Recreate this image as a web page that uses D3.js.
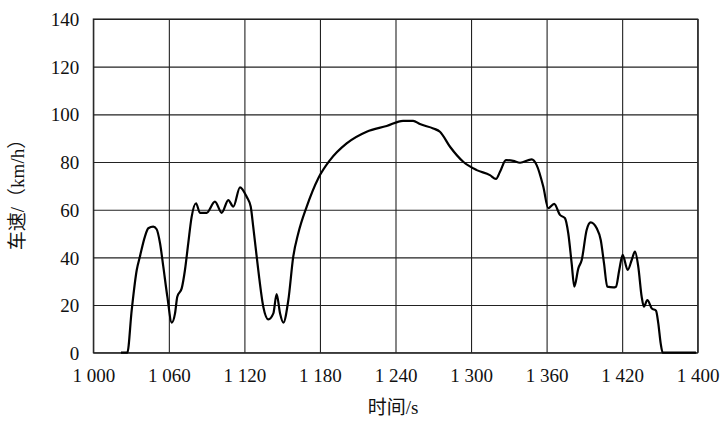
<!DOCTYPE html>
<html>
<head>
<meta charset="utf-8">
<script src="https://cdn.jsdelivr.net/npm/d3@7"></script>
<style>
  body { margin: 0; background: #fff; }
  svg text { font-family: "Liberation Serif", "Times New Roman", Tinos, "DejaVu Serif", "Noto Sans CJK SC", serif !important; fill: #111; }
</style>
</head>
<body>
<svg width="723" height="422"></svg>
<script>
// time (s) and speed (km/h)
const TIMES = [1022, 1027, 1030.5, 1034.5, 1037, 1041, 1043.7, 1047.6, 1050.3, 1053, 1055.6, 1058.8, 1062.3,
  1064.9, 1066.7, 1070.2, 1072.8, 1075.4, 1078.1, 1081.6, 1084.7, 1090, 1096.6, 1102, 1107.2, 1111.2, 1116.5,
  1121.8, 1125, 1127, 1131, 1135, 1139, 1143, 1145.6, 1148.3, 1150.9, 1154.9, 1158.8, 1162.8, 1169.5, 1178.7,
  1188, 1201.2, 1217.1, 1233, 1246, 1254, 1259.4, 1270, 1275.3, 1283.3, 1293.8, 1304.5, 1315, 1319.8, 1323,
  1327.7, 1333.5, 1338.9, 1348.2, 1352.1, 1357.4, 1361.3, 1366, 1370.6, 1374.6, 1377.2, 1379.9, 1382, 1385.2,
  1387.9, 1391.8, 1395, 1399.8, 1403, 1405.6, 1408.2, 1413, 1415.1, 1417.7, 1420.4, 1424.4, 1427.6, 1430.2,
  1432.8, 1435.5, 1437.3, 1440, 1443.5, 1446.9, 1448.7, 1450.6, 1452.2, 1478.6];
const SPEEDS = [0, 0, 17.9, 34.7, 40.3, 48.7, 52.2, 52.9, 51.8, 45.9, 36.1, 23.5, 12.6,
  16.5, 23.5, 27, 34.7, 45.9, 57, 62.7, 58.7, 58.7, 63.4, 58.7, 64, 61.3, 69.4,
  65.4, 61.3, 52.9, 34.7, 19.3, 14, 16.5, 24.6, 16.5, 12.6, 22.1, 40.3, 50.1, 61.3, 73.2,
  80.8, 87.8, 92.7, 95.1, 97.3, 97.3, 95.9, 94.1, 92.7, 86.4, 80.1, 76.6, 74.5, 72.9, 75.9,
  80.8, 80.5, 79.7, 81.1, 78.7, 69.6, 60.6, 62.4, 57.8, 56.4, 50.1, 37.5, 27.7, 35.4,
  38.9, 51.5, 54.7, 52.2, 47.3, 37.5, 27.7, 27.4, 27.7, 34.7, 41, 34.7, 38.9, 42.4,
  36.1, 23.5, 19.3, 22.1, 18.6, 17.6, 12.3, 3.9, 0, 0];

const X_TICKS = [1000, 1060, 1120, 1180, 1240, 1300, 1360, 1420, 1480];
// last label is printed as "1 400" in the original figure
const X_TICK_LABELS = ['1 000', '1 060', '1 120', '1 180', '1 240', '1 300', '1 360', '1 420', '1 400'];
const Y_TICKS = [0, 20, 40, 60, 80, 100, 120, 140];

const margin = { left: 93.3, top: 19, right: 25.3, bottom: 69.3 };
const width = 723 - margin.left - margin.right;
const height = 422 - margin.top - margin.bottom;

const svg = d3.select('svg');
const g = svg.append('g').attr('transform', `translate(${margin.left},${margin.top})`);

const x = d3.scaleLinear().domain([1000, 1480]).range([0, width]);
const y = d3.scaleLinear().domain([0, 140]).range([height, 0]);

// grid + axes
const xAxis = g.append('g')
  .attr('transform', `translate(0,${height})`)
  .call(d3.axisBottom(x).tickValues(X_TICKS).tickSize(-height).tickPadding(16)
    .tickFormat((d, i) => X_TICK_LABELS[i]));
const yAxis = g.append('g')
  .call(d3.axisLeft(y).tickValues(Y_TICKS).tickSize(-width).tickPadding(14));

[xAxis, yAxis].forEach(a => {
  a.attr('font-family', null);
  a.select('.domain').remove();
  a.selectAll('.tick line').attr('stroke', '#222').attr('stroke-width', 1.1);
  a.selectAll('.tick text').attr('font-size', 19).attr('fill', '#111');
});
yAxis.selectAll('.tick text').attr('dy', '0.35em');

g.append('rect')
  .attr('width', width).attr('height', height)
  .attr('fill', 'none').attr('stroke', '#222').attr('stroke-width', 1.1);

// speed curve
const pts = TIMES.map((t, i) => [t, SPEEDS[i]]);
const line = d3.line()
  .x(d => x(d[0]))
  .y(d => y(d[1]))
  .curve(d3.curveMonotoneX);

g.append('path')
  .datum(pts)
  .attr('d', line)
  .attr('fill', 'none')
  .attr('stroke', '#000')
  .attr('stroke-width', 2.2)
  .attr('stroke-linejoin', 'round');

// axis titles
svg.append('text')
  .attr('transform', 'translate(24,190) rotate(-90)')
  .attr('text-anchor', 'middle')
  .attr('font-size', 19)
  .text('车速/（km/h）');

svg.append('text')
  .attr('x', 393).attr('y', 414)
  .attr('text-anchor', 'middle')
  .attr('font-size', 19)
  .text('时间/s');
</script>
</body>
</html>
